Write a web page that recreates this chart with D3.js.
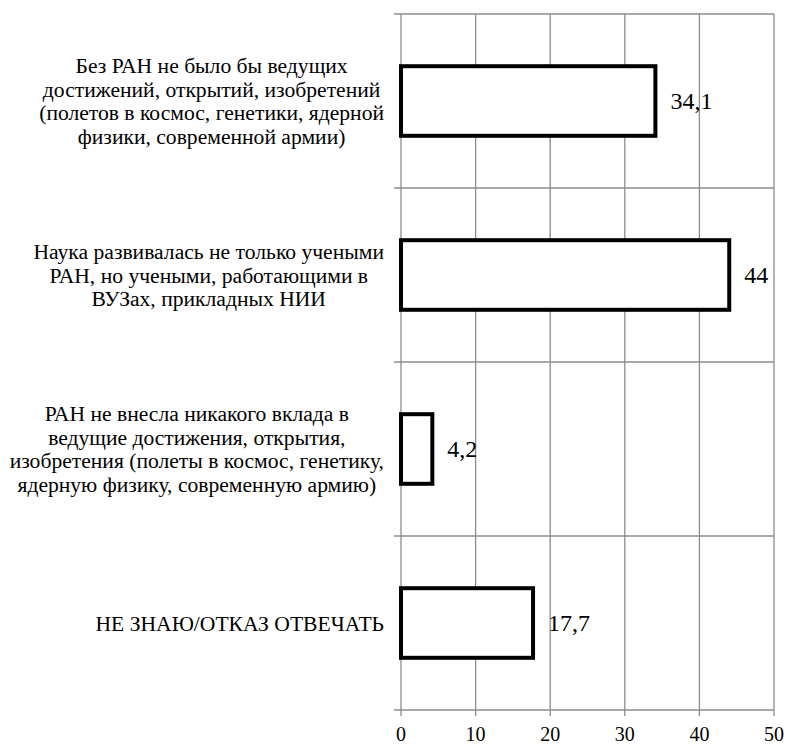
<!DOCTYPE html>
<html><head><meta charset="utf-8">
<script src="https://cdn.jsdelivr.net/npm/d3@7"></script>
<style>body{margin:0;background:#fff}svg{display:block}</style>
</head><body>
<script>
const categories = [
  ["Без РАН не было бы ведущих", "достижений, открытий, изобретений", "(полетов в космос, генетики, ядерной", "физики, современной армии)"],
  ["Наука развивалась не только учеными", "РАН, но учеными, работающими в", "ВУЗах, прикладных НИИ"],
  ["РАН не внесла никакого вклада в", "ведущие достижения, открытия,", "изобретения (полеты в космос, генетику,", "ядерную физику, современную армию)"],
  ["НЕ ЗНАЮ/ОТКАЗ ОТВЕЧАТЬ"]
];
const values = [34.1, 44, 4.2, 17.7];
const valueLabels = ["34,1", "44", "4,2", "17,7"];
const xTicks = [0, 10, 20, 30, 40, 50];

const W = 789, H = 749;
const mLeft = 401, mRight = 774, mTop = 14, mBottom = 710;
const lh = 23.5;

const svg = d3.select("body").append("svg").attr("width", W).attr("height", H);

// pick an installed Times-like serif font
function available(name) {
  const t = svg.append("text").attr("font-size", 40).text("абвгдежз ABCxyz 0123");
  t.style("font-family", "monospace");
  const w0 = t.node().getComputedTextLength();
  t.style("font-family", `"${name}", monospace`);
  const w1 = t.node().getComputedTextLength();
  t.remove();
  return Math.abs(w0 - w1) > 0.5;
}
const candidates = ["Liberation Serif", "Times New Roman", "Tinos", "Times", "Noto Serif", "DejaVu Serif", "FreeSerif"];
const chosen = candidates.find(available);
const font = chosen ? `"${chosen}", serif` : "serif";

function fitSize(str, targetW) {
  const t = svg.append("text").style("font-family", font).attr("font-size", 20).text(str);
  const w = t.node().getComputedTextLength();
  t.remove();
  return 20 * targetW / w;
}
const fsLabel = Math.max(14, Math.min(26, fitSize(categories[0][2], 345)));
const fsValue = Math.max(14, Math.min(24, fitSize("34,1", 42)));
const fsTick = Math.max(14, Math.min(20, fitSize("40", 24)));

const x = d3.scaleLinear().domain([0, 50]).range([mLeft, mRight]);
const y = d3.scaleBand().domain(d3.range(categories.length)).range([mTop, mBottom]).paddingInner(0.6).paddingOuter(0.3);
const yb = d3.scaleBand().domain(d3.range(categories.length)).range([mTop, mBottom]);

const grid = "#8c8c8c";
svg.append("g").selectAll("line").data(xTicks).join("line")
  .attr("x1", d => x(d)).attr("x2", d => x(d))
  .attr("y1", mTop).attr("y2", mBottom + 6)
  .attr("stroke", grid).attr("stroke-width", 1.3);
const bounds = d3.range(categories.length + 1).map(i => i < categories.length ? yb(i) : mBottom);
svg.append("g").selectAll("line").data(bounds).join("line")
  .attr("x1", mLeft - 7).attr("x2", mRight)
  .attr("y1", d => d).attr("y2", d => d)
  .attr("stroke", grid).attr("stroke-width", 1.3);

svg.append("g").selectAll("rect").data(values).join("rect")
  .attr("x", x(0)).attr("y", (d, i) => y(i))
  .attr("width", d => x(d) - x(0)).attr("height", y.bandwidth())
  .attr("fill", "#fff").attr("stroke", "#000").attr("stroke-width", 4);

svg.append("g").selectAll("text").data(values).join("text")
  .attr("x", d => x(d) + 15).attr("y", (d, i) => y(i) + y.bandwidth() / 2)
  .attr("dy", "0.35em")
  .style("font-family", font).attr("font-size", fsValue).attr("fill", "#000")
  .text((d, i) => valueLabels[i]);

svg.append("g").selectAll("text").data(xTicks).join("text")
  .attr("x", d => x(d)).attr("y", 734).attr("dy", "0.35em")
  .attr("text-anchor", "middle")
  .style("font-family", font).attr("font-size", fsTick).attr("fill", "#000")
  .text(d => d);

const labelRight = 384;
categories.forEach((lines, i) => {
  const g = svg.append("g");
  const cy = yb(i) + yb.bandwidth() / 2;
  const n = lines.length;
  const ts = g.selectAll("text").data(lines).join("text")
    .style("font-family", font).attr("font-size", fsLabel).attr("fill", "#000")
    .attr("text-anchor", "middle")
    .attr("y", (d, j) => cy + (j - (n - 1) / 2) * lh)
    .attr("dy", "0.35em")
    .text(d => d);
  let maxW = 0;
  ts.each(function () { maxW = Math.max(maxW, this.getComputedTextLength()); });
  ts.attr("x", labelRight - maxW / 2);
});
</script>
</body></html>
